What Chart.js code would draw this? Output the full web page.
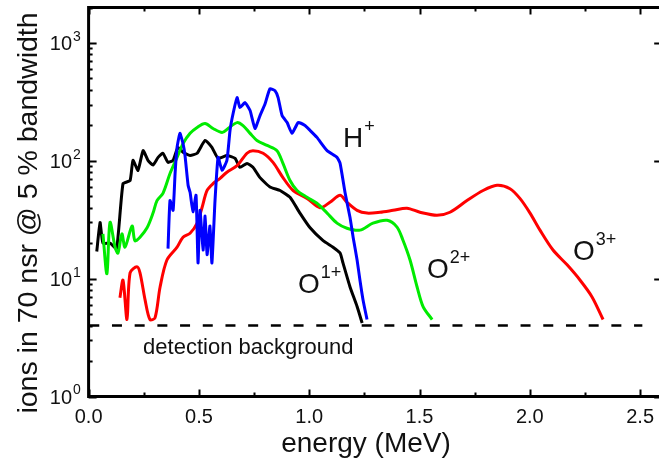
<!DOCTYPE html>
<html>
<head>
<meta charset="utf-8">
<script src="https://cdn.jsdelivr.net/npm/chart.js@4.4.1/dist/chart.umd.min.js"></script>
<style>
  html, body { margin: 0; padding: 0; background: #fff; overflow: hidden; }
  #wrap { width: 680px; height: 469px; }
</style>
</head>
<body>
<div id="wrap"><canvas id="myChart"></canvas></div>
<script>
const xTicks = [0, 0.5, 1.0, 1.5, 2.0, 2.5];
const yTicks = [1, 10, 100, 1000];
const yTickExponents = ['0', '1', '2', '3'];

// H+
const hEnergy = [0.360, 0.369, 0.383, 0.392, 0.401, 0.414, 0.428, 0.437, 0.451, 0.460, 0.473, 0.487, 0.496, 0.505, 0.519, 0.528, 0.537, 0.550, 0.559, 0.573, 0.587, 0.605, 0.627, 0.641, 0.655, 0.673, 0.686, 0.709, 0.732, 0.754, 0.777, 0.800, 0.822, 0.845, 0.859, 0.877, 0.900, 0.922, 0.950, 0.981, 1.004, 1.035, 1.081, 1.126, 1.140, 1.163, 1.185, 1.199, 1.217, 1.230, 1.244, 1.262];
const hCounts = [18, 46, 38, 78, 130, 171, 140, 111, 62, 54, 37, 51, 13.6, 38, 17.5, 34, 16, 28, 13.6, 46, 107, 83, 101, 181, 252, 344, 283, 312, 267, 188, 242, 305, 409, 394, 344, 242, 211, 171, 211, 199, 181, 158, 122, 107, 95, 53, 33, 22.5, 14.4, 9.7, 6.6, 4.5];

// O1+
const o1Energy = [0.037, 0.052, 0.065, 0.097, 0.127, 0.156, 0.188, 0.201, 0.224, 0.247, 0.269, 0.292, 0.315, 0.337, 0.360, 0.383, 0.405, 0.428, 0.460, 0.492, 0.528, 0.559, 0.587, 0.627, 0.664, 0.686, 0.718, 0.745, 0.777, 0.822, 0.868, 0.913, 0.958, 1.004, 1.063, 1.108, 1.140, 1.153, 1.185, 1.217, 1.240];
const o1Counts = [17, 30, 20, 20, 18, 64, 68, 101, 83, 122, 101, 92, 107, 116, 97, 101, 130, 118, 111, 116, 149, 130, 105, 111, 105, 88, 95, 88, 72, 60, 56, 49, 36, 27, 21, 18.5, 16.5, 13.6, 8.5, 5.8, 4.2];

// O2+
const o2Energy = [0.065, 0.083, 0.097, 0.120, 0.133, 0.151, 0.165, 0.197, 0.210, 0.233, 0.265, 0.292, 0.310, 0.337, 0.369, 0.401, 0.428, 0.460, 0.492, 0.528, 0.564, 0.605, 0.632, 0.673, 0.700, 0.732, 0.763, 0.809, 0.854, 0.881, 0.913, 0.945, 0.990, 1.035, 1.081, 1.126, 1.171, 1.230, 1.289, 1.353, 1.398, 1.425, 1.457, 1.489, 1.516, 1.557];
const o2Counts = [24, 11, 30, 18.5, 16.5, 24, 18.5, 28, 21, 22.5, 27, 36, 46, 53, 78, 107, 140, 171, 192, 207, 188, 174, 188, 211, 199, 171, 149, 135, 122, 95, 68, 56, 49, 43.6, 36, 29.6, 26.8, 25.8, 29.6, 31.3, 27.4, 21.2, 14.4, 8.5, 5.8, 4.5];

// O3+
const o3Energy = [0.142, 0.156, 0.174, 0.188, 0.219, 0.233, 0.256, 0.278, 0.301, 0.324, 0.355, 0.401, 0.428, 0.460, 0.492, 0.514, 0.537, 0.564, 0.596, 0.627, 0.673, 0.718, 0.745, 0.791, 0.836, 0.881, 0.927, 0.990, 1.049, 1.094, 1.140, 1.171, 1.217, 1.262, 1.321, 1.380, 1.443, 1.502, 1.579, 1.638, 1.715, 1.788, 1.851, 1.910, 1.955, 2.001, 2.046, 2.105, 2.169, 2.228, 2.282, 2.332];
const o3Counts = [6.9, 9.7, 4.5, 11.2, 12.6, 11.2, 6.6, 4.5, 4.65, 8.5, 14.4, 18.5, 22.5, 24.3, 29.6, 40, 56, 64, 71, 80, 91, 116, 122, 116, 97, 72, 56, 48, 40, 44.5, 51, 44.5, 38, 36, 36.6, 38, 39.6, 36.6, 34.5, 36.6, 46, 56, 62, 58, 48, 36, 25.8, 17.5, 13.1, 9.7, 7.0, 4.5];

// detection background
const bgEnergy = [0.003, 2.51];
const bgCounts = [4, 4];

const labelNames = ['H', 'O', 'O', 'O'];
const labelCharges = ['+', '1+', '2+', '3+'];
const labelEnergy = [1.153, 0.949, 1.534, 2.196];
const labelCounts = [131, 7.6, 10.1, 14.4];

const toPoints = (xs, ys) => xs.map((x, i) => ({ x: x, y: ys[i] }));

const FONT = "'Liberation Sans', Arial, sans-serif";

const framePlugin = {
  id: 'frame',
  afterDraw(chart) {
    const ctx = chart.ctx;
    const a = chart.chartArea;
    const xs = chart.scales.x;
    const ys = chart.scales.y;
    ctx.save();
    ctx.strokeStyle = '#000';
    ctx.lineWidth = 3;
    ctx.strokeRect(a.left, a.top, a.right - a.left, a.bottom - a.top);

    // ticks
    ctx.lineWidth = 2;
    ctx.beginPath();
    for (let v = 0; v <= 2.6; v += 0.25) {
      const px = Math.round(xs.getPixelForValue(v)) + 0.5;
      const major = Math.abs(v / 0.5 - Math.round(v / 0.5)) < 1e-6;
      const len = major ? 7 : 4;
      ctx.moveTo(px, a.bottom); ctx.lineTo(px, a.bottom - len);
      ctx.moveTo(px, a.top); ctx.lineTo(px, a.top + len);
    }
    yTicks.forEach(d => {
      for (let m = 1; m <= 9; m++) {
        const v = d * m;
        if (v > 2000) break;
        const py = Math.round(ys.getPixelForValue(v)) + 0.5;
        ctx.moveTo(a.left, py); ctx.lineTo(a.left + (m === 1 ? 8 : 4), py);
        ctx.moveTo(a.right, py); ctx.lineTo(a.right - (m === 1 ? 8 : 2), py);
      }
    });
    ctx.stroke();

    // y tick labels with exponents
    ctx.fillStyle = '#111';
    ctx.textBaseline = 'middle';
    yTicks.forEach((v, i) => {
      const py = ys.getPixelForValue(v);
      ctx.font = '20px ' + FONT;
      ctx.textAlign = 'right';
      ctx.fillText('10', 72, py + 2);
      ctx.font = '14px ' + FONT;
      ctx.textAlign = 'left';
      ctx.fillText(yTickExponents[i], 73, py - 6);
    });

    // axis titles
    ctx.font = '28px ' + FONT;
    ctx.textAlign = 'center';
    ctx.textBaseline = 'alphabetic';
    ctx.fillText('energy (MeV)', 366, 452);
    ctx.save();
    ctx.translate(37, 213);
    ctx.rotate(-Math.PI / 2);
    ctx.font = '28.5px ' + FONT;
    ctx.fillText('ions in 70 nsr @ 5 % bandwidth', 0, 0);
    ctx.restore();

    // curve labels
    ctx.textAlign = 'left';
    labelNames.forEach((name, i) => {
      const px = xs.getPixelForValue(labelEnergy[i]);
      const py = ys.getPixelForValue(labelCounts[i]);
      ctx.font = '28px ' + FONT;
      ctx.fillText(name, px, py);
      const w = ctx.measureText(name).width;
      ctx.font = '18px ' + FONT;
      ctx.fillText(labelCharges[i], px + w + 1, py - 15);
    });

    ctx.font = '22px ' + FONT;
    ctx.fillText('detection background', xs.getPixelForValue(0.247), ys.getPixelForValue(2.3));
    ctx.restore();
  }
};

const ctx = document.getElementById('myChart').getContext('2d');

const data = {
  datasets: [
    { label: 'H+', data: toPoints(hEnergy, hCounts), borderColor: '#0000ff', order: 1, tension: 0.15 },
    { label: 'O2+', data: toPoints(o2Energy, o2Counts), borderColor: 'rgb(0,235,0)', order: 2, tension: 0.3 },
    { label: 'O3+', data: toPoints(o3Energy, o3Counts), borderColor: '#ff0000', order: 3, tension: 0.3 },
    { label: 'O1+', data: toPoints(o1Energy, o1Counts), borderColor: '#000', order: 4, tension: 0.15 },
    { label: 'background', data: toPoints(bgEnergy, bgCounts), borderColor: '#000', borderDash: [10, 12.7], borderWidth: 2.5, order: 5, tension: 0 },
  ],
};

const config = {
  type: 'line',
  data: data,
  options: {
    responsive: true,
    maintainAspectRatio: false,
    animation: false,
    layout: { padding: { top: 7.5, right: 17.8, left: 0, bottom: 0 } },
    elements: {
      point: { radius: 0 },
      line: { borderWidth: 3, fill: false, borderCapStyle: 'butt' },
    },
    plugins: { legend: { display: false }, tooltip: { enabled: false } },
    scales: {
      x: {
        type: 'linear',
        min: 0,
        max: 2.6,
        grid: { display: false, drawTicks: false },
        border: { display: false },
        afterBuildTicks: (scale) => { scale.ticks = xTicks.map(v => ({ value: v })); },
        afterFit: (scale) => { scale.height = 72.5; },
        ticks: {
          color: '#111',
          padding: 9,
          maxRotation: 0,
          font: { size: 20, family: FONT },
          callback: (value) => Number(value).toFixed(1),
        },
      },
      y: {
        type: 'logarithmic',
        min: 1,
        max: 2000,
        grid: { display: false, drawTicks: false },
        border: { display: false },
        afterBuildTicks: (scale) => { scale.ticks = yTicks.map(v => ({ value: v })); },
        afterFit: (scale) => { scale.width = 88.6; },
        ticks: { display: false },
      },
    },
  },
  plugins: [framePlugin],
};

const myChart = new Chart(ctx, config);
</script>
</body>
</html>
